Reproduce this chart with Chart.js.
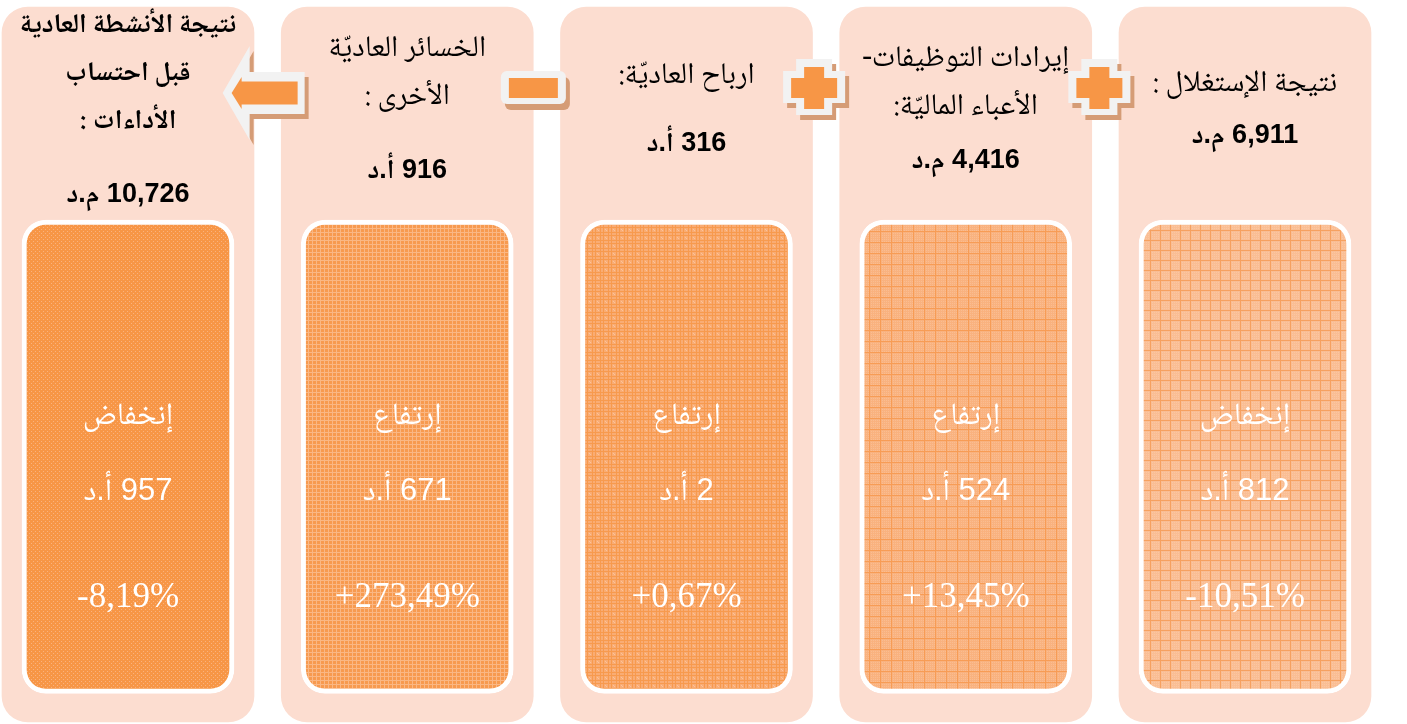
<!DOCTYPE html>
<html><head><meta charset="utf-8">
<script src="https://cdn.jsdelivr.net/npm/chart.js@4.4.1/dist/chart.umd.min.js"></script>
<style>html,body{margin:0;padding:0;background:#fff;overflow:hidden}canvas{display:block}</style>
</head><body>
<canvas id="c" width="1407" height="724"></canvas>
<script>
// ---- DATA (index 0 = rightmost panel, reading right to left) ----
const categories = ['نتيجة الإستغلال', 'إيرادات التوظيفات-الأعباء الماليّة', 'ارباح العاديّة', 'الخسائر العاديّة الأخرى', 'نتيجة الأنشطة العادية قبل احتساب الأداءات'];
const titleLines = [
  ['نتيجة الإستغلال :'],
  ['إيرادات التوظيفات-', 'الأعباء الماليّة:'],
  ['ارباح العاديّة:'],
  ['الخسائر العاديّة', 'الأخرى :'],
  ['نتيجة الأنشطة العادية', 'قبل احتساب', 'الأداءات :']
];
const amountValues = [6.911, 4.416, 316, 916, 10.726];
const amountUnits = ['م.د', 'م.د', 'أ.د', 'أ.د', 'م.د'];
const changeLabels = ['إنخفاض', 'إرتفاع', 'إرتفاع', 'إرتفاع', 'إنخفاض'];
const changeValues = [812, 524, 2, 671, 957];
const changeUnit = 'أ.د';
const changePercents = [-10.51, 13.45, 0.67, 273.49, -8.19];
const operators = ['plus', 'plus', 'minus', 'arrow']; // between panel i and i+1

// ---- STYLE / LAYOUT ----
const PANEL_COLOR = '#FCDDD0';
const boxRange = [0.04, 0.702];
const amountGap = [49, 51, 65, 70, 70];
const opShift = [-6, -12, -14, -4];
const LINE_H = 48;
const AR = "'Noto Naskh Arabic', 'Noto Sans Arabic', 'DejaVu Sans', sans-serif";
const TITLE_FONT = "30px " + AR;
const TITLE_FONT_BOLD = "bold 27px " + AR;
const AMOUNT_FONT = "bold 27px 'Liberation Sans', " + AR;
const INNER_LABEL_FONT = "31px " + AR;
const INNER_VALUE_FONT = "31px 'Liberation Sans', " + AR;
const INNER_PCT_FONT = "35px 'Liberation Serif', serif";

function fmtAmount(v, unit) {
  const s = unit === 'م.د' ? v.toFixed(3).replace('.', ',') : String(v);
  return s + ' ' + unit;
}
function fmtPct(p) {
  return (p < 0 ? '-' : '+') + Math.abs(p).toFixed(2).replace('.', ',') + '%';
}

function makePattern(size, base, draw) {
  const c = document.createElement('canvas');
  c.width = size; c.height = size;
  const g = c.getContext('2d');
  g.fillStyle = base; g.fillRect(0, 0, size, size);
  draw(g);
  return document.getElementById('c').getContext('2d').createPattern(c, 'repeat');
}
const patterns = [
  makePattern(10, '#FABE94', g => { g.fillStyle = '#F6A160'; g.fillRect(0, 0, 10, 1); g.fillRect(0, 0, 1, 10); g.fillStyle = '#FBC7A2'; for (let i = 2; i < 10; i += 2) for (let j = 2; j < 10; j += 2) g.fillRect(i, j, 1, 1); }),
  makePattern(11, '#F9B27F', g => { g.fillStyle = '#F79C55'; g.fillRect(0, 0, 11, 1); g.fillRect(0, 0, 1, 11); g.fillStyle = '#FABD91'; for (let i = 2; i < 11; i += 2) for (let j = 2; j < 11; j += 2) g.fillRect(i, j, 1, 1); }),
  makePattern(8, '#F9AC74', g => { g.fillStyle = '#F79A4E'; g.fillRect(0, 0, 8, 1); g.fillRect(0, 0, 1, 8); g.fillRect(0, 3, 8, 1); g.fillRect(3, 0, 1, 8); g.fillStyle = '#FBC39A'; g.fillRect(5, 5, 1, 1); g.fillRect(6, 6, 1, 1); }),
  makePattern(4, '#F79A4F', g => { g.fillStyle = '#FAB784'; g.fillRect(0, 0, 4, 1); g.fillRect(0, 0, 1, 4); }),
  makePattern(4, '#F79646', g => { g.fillStyle = '#FAB27E'; g.fillRect(1, 1, 1, 1); g.fillRect(3, 3, 1, 1); })
];

function roundRect(ctx, x, y, w, h, r) {
  ctx.beginPath();
  ctx.moveTo(x + r, y);
  ctx.arcTo(x + w, y, x + w, y + h, r);
  ctx.arcTo(x + w, y + h, x, y + h, r);
  ctx.arcTo(x, y + h, x, y, r);
  ctx.arcTo(x, y, x + w, y, r);
  ctx.closePath();
}
function crossPath(ctx, cx, cy, hw, hh, vw, vh) {
  ctx.beginPath();
  ctx.moveTo(cx - vw, cy - vh); ctx.lineTo(cx + vw, cy - vh); ctx.lineTo(cx + vw, cy - hh);
  ctx.lineTo(cx + hw, cy - hh); ctx.lineTo(cx + hw, cy + hh); ctx.lineTo(cx + vw, cy + hh);
  ctx.lineTo(cx + vw, cy + vh); ctx.lineTo(cx - vw, cy + vh); ctx.lineTo(cx - vw, cy + hh);
  ctx.lineTo(cx - hw, cy + hh); ctx.lineTo(cx - hw, cy - hh); ctx.lineTo(cx - vw, cy - hh);
  ctx.closePath();
}
function arrowPath(ctx, cx, cy, tip, headBack, headH, bodyEnd, bodyH) {
  ctx.beginPath();
  ctx.moveTo(cx + tip, cy);
  ctx.lineTo(cx + headBack, cy - headH);
  ctx.lineTo(cx + headBack, cy - bodyH);
  ctx.lineTo(cx + bodyEnd, cy - bodyH);
  ctx.lineTo(cx + bodyEnd, cy + bodyH);
  ctx.lineTo(cx + headBack, cy + bodyH);
  ctx.lineTo(cx + headBack, cy + headH);
  ctx.closePath();
}
const SHADOW = '#D59C76', GREY = '#F2F2F2', ORANGE = '#F79646';

const overlay = {
  id: 'overlay',
  afterDatasetsDraw(chart) {
    const ctx = chart.ctx;
    const panels = chart.getDatasetMeta(0).data;
    const boxes = chart.getDatasetMeta(1).data;
    ctx.save();
    ctx.textAlign = 'center';
    ctx.textBaseline = 'middle';
    panels.forEach((p, i) => {
      const cx = p.x;
      const top = p.y;
      const boxTop = boxes[i].y;
      const lines = titleLines[i];
      const blockH = (lines.length - 1) * LINE_H + amountGap[i];
      const regionMid = (top + boxTop) / 2 - 2;
      let y = regionMid - blockH / 2;
      ctx.fillStyle = '#000';
      ctx.direction = 'rtl';
      ctx.font = i === 4 ? TITLE_FONT_BOLD : TITLE_FONT;
      lines.forEach((ln, k) => ctx.fillText(ln, cx, y + k * LINE_H));
      ctx.font = AMOUNT_FONT;
      ctx.fillText(fmtAmount(amountValues[i], amountUnits[i]), cx, y + (lines.length - 1) * LINE_H + amountGap[i]);
      // inner box texts
      ctx.fillStyle = '#FFFFFF';
      ctx.font = INNER_LABEL_FONT;
      ctx.fillText(changeLabels[i], cx, boxTop + 200);
      ctx.font = INNER_VALUE_FONT;
      ctx.fillText(changeValues[i] + ' ' + changeUnit, cx, boxTop + 271);
      ctx.direction = 'ltr';
      ctx.font = INNER_PCT_FONT;
      ctx.fillText(fmtPct(changePercents[i]), cx, boxTop + 378);
    });
    // operators
    operators.forEach((op, i) => {
      const a = panels[i], b = panels[i + 1];
      const cx = (a.x + b.x) / 2 + opShift[i];
      const top = Math.min(a.y, b.y);
      if (op === 'plus') {
        const cy = top + 80;
        ctx.fillStyle = SHADOW; crossPath(ctx, cx + 4, cy + 5, 31, 16, 18, 28); ctx.fill();
        ctx.fillStyle = GREY; crossPath(ctx, cx, cy, 31, 16, 18, 28); ctx.fill();
        ctx.fillStyle = ORANGE; crossPath(ctx, cx, cy + 1, 23, 10, 10, 21); ctx.fill();
      } else if (op === 'minus') {
        const cy = top + 80;
        ctx.fillStyle = SHADOW; roundRect(ctx, cx - 32 + 4, cy - 16 + 6, 65, 33, 6); ctx.fill();
        ctx.fillStyle = GREY; roundRect(ctx, cx - 32, cy - 16, 65, 33, 6); ctx.fill();
        ctx.fillStyle = ORANGE; ctx.fillRect(cx - 24, cy - 9, 49, 20);
      } else {
        const cy = top + 86;
        ctx.fillStyle = SHADOW; arrowPath(ctx, cx + 4, cy + 5, -41, -14, 47, 41, 21); ctx.fill();
        ctx.fillStyle = GREY; arrowPath(ctx, cx, cy, -41, -14, 47, 41, 21); ctx.fill();
        ctx.fillStyle = ORANGE; arrowPath(ctx, cx, cy, -32, -22, 16, 34, 11.5); ctx.fill();
      }
    });
    ctx.restore();
  }
};

new Chart(document.getElementById('c'), {
  type: 'bar',
  data: {
    labels: categories,
    datasets: [
      { label: 'panel', data: categories.map(() => [0, 1]), backgroundColor: PANEL_COLOR, borderWidth: 0,
        borderRadius: 26, borderSkipped: false, barThickness: 252, grouped: false, order: 2, clip: false },
      { label: 'change', data: categories.map(() => boxRange), backgroundColor: patterns, borderColor: '#FFFFFF',
        borderWidth: 5, borderRadius: 24, borderSkipped: false, barThickness: 212, grouped: false, order: 1, clip: false }
    ]
  },
  options: {
    responsive: false,
    devicePixelRatio: 1,
    animation: false,
    layout: { padding: { left: 128, right: 162, top: 7, bottom: 2 } },
    plugins: { legend: { display: false }, tooltip: { enabled: false }, title: { display: false } },
    scales: {
      x: { type: 'category', reverse: true, offset: false, display: false, grid: { display: false } },
      y: { min: 0, max: 1, display: false, grid: { display: false } }
    }
  },
  plugins: [overlay]
});
</script>
</body></html>
